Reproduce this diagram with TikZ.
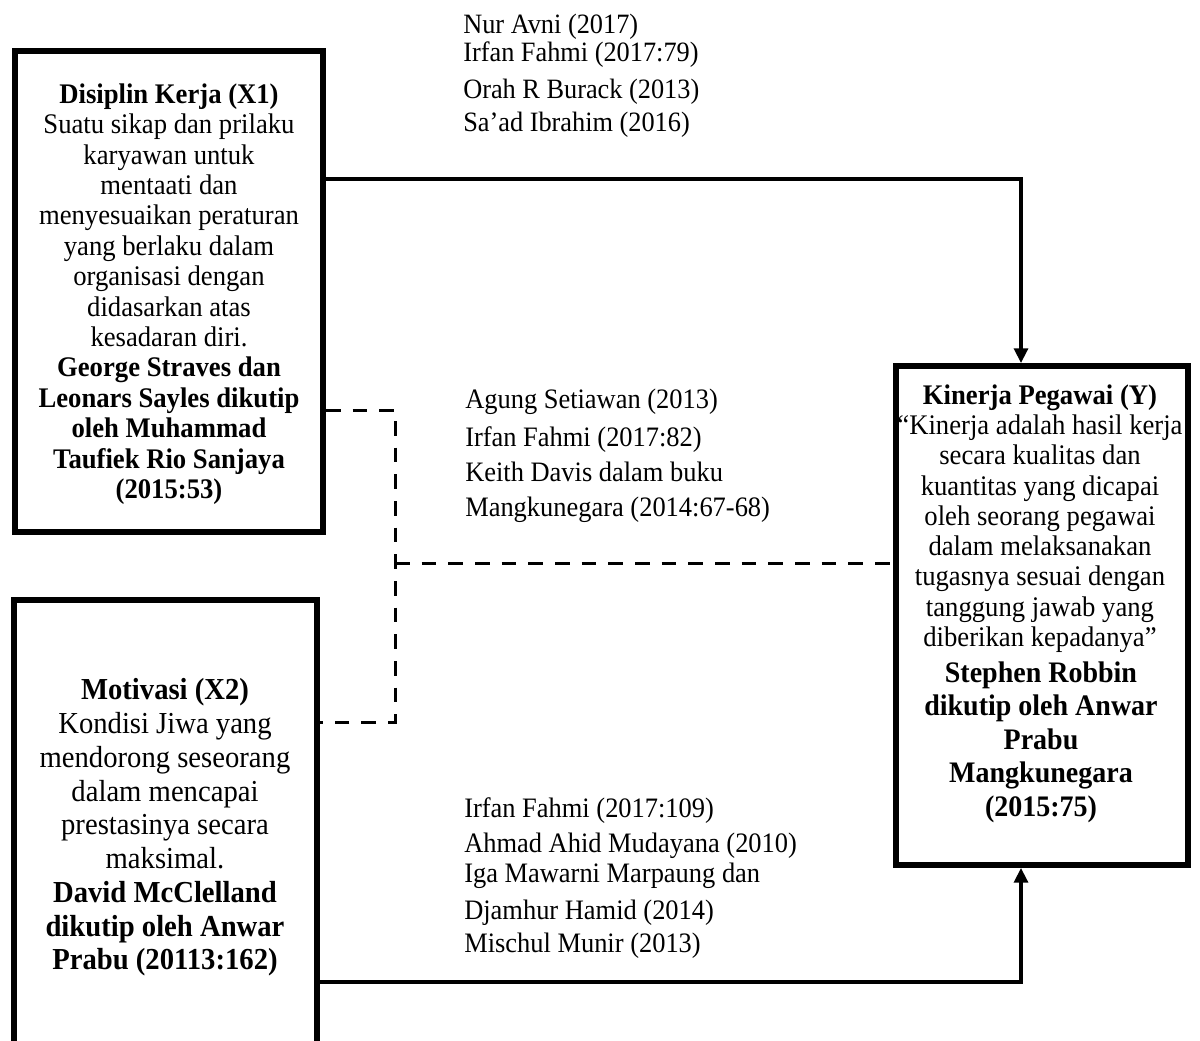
\documentclass[tikz,border=0pt]{standalone}
\usepackage{fontspec}
\setmainfont{Liberation Serif}[FakeStretch=0.94]
\usetikzlibrary{arrows.meta}
\begin{document}
\begin{tikzpicture}[x=0.75pt,y=-0.75pt,
  box/.style={draw, line width=4.5pt, inner sep=0pt},
  txt/.style={inner sep=0pt, align=center},
  reftxt/.style={inner sep=0pt, align=left, anchor=west},
  arr/.style={line width=2.4pt, -{Triangle[width=10.5pt,length=11pt]}},
  dashline/.style={line width=2.25pt, dash pattern=on 11pt off 9pt}
]
\path[use as bounding box] (0,0) rectangle (1200,1041);
\clip (0,0) rectangle (1200,1041);

% boxes
\node[box, minimum width=231pt, minimum height=360.75pt] (x1) at (169,291.5) {};
\node[box, minimum width=227.25pt, minimum height=375pt] (x2) at (165,850) {};
\node[box, minimum width=219pt, minimum height=374.25pt] (y) at (1042,615.5) {};

% box texts
\node[txt, font=\fontsize{21.28pt}{22.8pt}\selectfont] (x1t) at (169,294) {%
\textbf{Disiplin Kerja (X1)}\\
Suatu sikap dan prilaku\\
karyawan untuk\\
mentaati dan\\
menyesuaikan peraturan\\
yang berlaku dalam\\
organisasi dengan\\
didasarkan atas\\
kesadaran diri.\\
\textbf{George Straves dan}\\
\textbf{Leonars Sayles dikutip}\\
\textbf{oleh Muhammad}\\
\textbf{Taufiek Rio Sanjaya}\\
\textbf{(2015:53)}};

\node[txt, font=\fontsize{22.87pt}{25.3pt}\selectfont] (x2t) at (165,827.5) {%
\textbf{Motivasi (X2)}\\
Kondisi Jiwa yang\\
mendorong seseorang\\
dalam mencapai\\
prestasinya secara\\
maksimal.\\
\textbf{David McClelland}\\
\textbf{dikutip oleh Anwar}\\
\textbf{Prabu (20113:162)}};

\node[txt, font=\fontsize{21.28pt}{22.7pt}\selectfont] (yt) at (1040,518.5) {%
\textbf{Kinerja Pegawai (Y)}\\
“Kinerja adalah hasil kerja\\
secara kualitas dan\\
kuantitas yang dicapai\\
oleh seorang pegawai\\
dalam melaksanakan\\
tugasnya sesuai dengan\\
tanggung jawab yang\\
diberikan kepadanya”};

\node[txt, font=\fontsize{22.34pt}{25.1pt}\selectfont\bfseries] (yb) at (1041,742) {%
Stephen Robbin\\
dikutip oleh Anwar\\
Prabu\\
Mangkunegara\\
(2015:75)};

% reference lists
\node[reftxt, font=\fontsize{21pt}{21pt}\selectfont] (r1) at (463,76) {%
Nur Avni (2017)\\
Irfan Fahmi (2017:79)\\[6.75pt]
Orah R Burack (2013)\\[3.75pt]
Sa’ad Ibrahim (2016)};

\node[reftxt, font=\fontsize{21.1pt}{26.25pt}\selectfont] (r2) at (465,456) {%
Agung Setiawan (2013)\\[2.25pt]
Irfan Fahmi (2017:82)\\
Keith Davis dalam buku\\
Mangkunegara (2014:67-68)};

\node[reftxt, font=\fontsize{21.1pt}{22.5pt}\selectfont] (r3) at (464,878) {%
Irfan Fahmi (2017:109)\\[3.75pt]
Ahmad Ahid Mudayana (2010)\\
Iga Mawarni Marpaung dan\\[5.25pt]
Djamhur Hamid (2014)\\[2.25pt]
Mischul Munir (2013)};

% connectors
\coordinate (t1) at (1021,179);
\coordinate (t2) at (1021,982);
\coordinate (d1) at (395,410);
\coordinate (d2) at (395,722);
\coordinate (d3) at (395,563);

\draw[arr] (x1.east |- t1) -- (t1) -- (t1 |- y.north);
\draw[arr] (x2.east |- t2) -- (t2) -- (t2 |- y.south);
\draw[dashline] (x1.east |- d1) -- (d1) -- (d2) -- (x2.east |- d2);
\draw[dashline] (d3) -- (d3 -| y.west);
\end{tikzpicture}
\end{document}
